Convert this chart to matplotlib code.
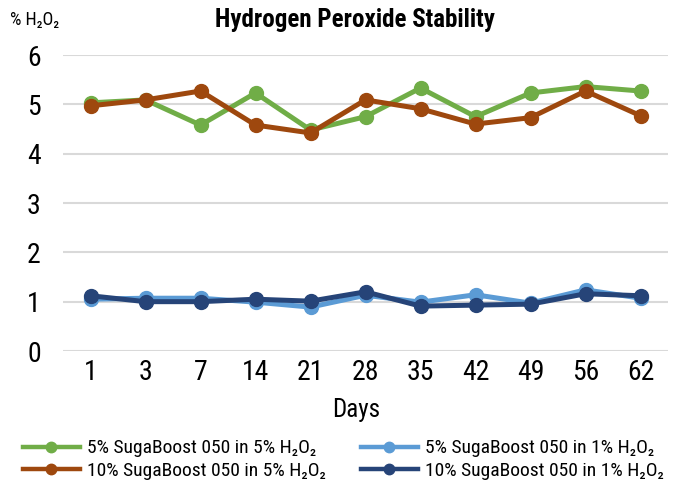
import matplotlib.pyplot as plt
import numpy as np
from matplotlib import font_manager
from matplotlib.lines import Line2D

installed = {f.name for f in font_manager.fontManager.ttflist}
family = next(f for f in ['Roboto Condensed', 'Liberation Sans Narrow', 'Liberation Sans', 'DejaVu Sans']
              if f in installed)
plt.rcParams['font.family'] = [family, 'DejaVu Sans']

days = ['1', '3', '7', '14', '21', '28', '35', '42', '49', '56', '62']
green_5in5 = [5.03, 5.09, 4.58, 5.23, 4.48, 4.75, 5.33, 4.75, 5.23, 5.36, 5.27]
brown_10in5 = [4.97, 5.09, 5.27, 4.58, 4.42, 5.09, 4.91, 4.60, 4.73, 5.27, 4.77]
light_5in1 = [1.05, 1.07, 1.07, 0.99, 0.89, 1.13, 0.99, 1.14, 0.97, 1.24, 1.07]
dark_10in1 = [1.12, 1.00, 1.00, 1.05, 1.01, 1.20, 0.91, 0.93, 0.95, 1.16, 1.12]

labels = ['5% SugaBoost 050 in 5% H\u2082O\u2082', '10% SugaBoost 050 in 5% H\u2082O\u2082',
          '5% SugaBoost 050 in 1% H\u2082O\u2082', '10% SugaBoost 050 in 1% H\u2082O\u2082']
colors = ['#70AD47', '#9E480E', '#5B9BD5', '#264478']

fig = plt.figure(figsize=(6.78, 4.84), dpi=100)
ax = fig.add_axes([63 / 678, 1 - 351 / 484, 605 / 678, 296 / 484])

x = np.arange(len(days))
for ys, c in zip([green_5in5, brown_10in5, light_5in1, dark_10in1], colors):
    ax.plot(x, ys, color=c, lw=3.6, marker='o', ms=10)

ax.set_ylim(0, 6)
ax.set_xlim(-0.5, len(days) - 0.5)
ax.set_yticks(range(7))
ax.set_xticks(x)
ax.set_xticklabels(days)
ax.tick_params(axis='y', length=0, labelsize=20, pad=16)
ax.tick_params(axis='x', length=0, labelsize=20, pad=6)
ax.grid(axis='y', color='#D9D9D9', lw=1.5)
ax.set_axisbelow(True)
for s in ax.spines.values():
    s.set_visible(False)

ax.set_xlabel('Days', fontsize=18, labelpad=6)
ax.xaxis.set_label_coords(0.484, -0.16)
fig.text(0.524, 0.958, 'Hydrogen Peroxide Stability', ha='center', va='center',
         fontsize=18, fontweight='bold')
fig.text(0.015, 0.958, '% H\u2082O\u2082', ha='left', va='center', fontsize=13)

handles = [Line2D([], [], color=c, lw=3.2, marker='o', ms=7.5) for c in colors]
fig.legend(handles, labels, loc='center', bbox_to_anchor=(0.507, 0.05), ncol=2, frameon=False,
           fontsize=14, handlelength=2.9, columnspacing=1.8, labelspacing=0.25,
           handletextpad=0.4, borderaxespad=0)

fig.savefig('out.png', dpi=100)
